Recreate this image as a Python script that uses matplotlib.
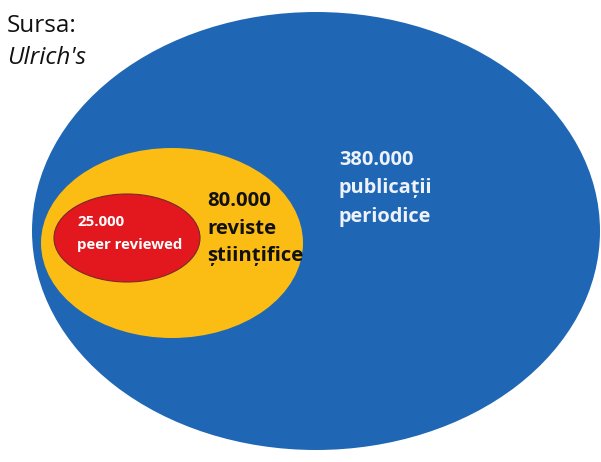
import matplotlib
matplotlib.use("Agg")
import matplotlib.pyplot as plt
from matplotlib.patches import Ellipse

plt.rcParams['font.family'] = ['Open Sans', 'DejaVu Sans']

values = ["380.000", "80.000", "25.000"]
descriptions = [["publicații", "periodice"], ["reviste", "științifice"], ["peer reviewed"]]
colors = ["#1f67b5", "#fbbc14", "#e3171e"]
text_colors = ["#eef2fa", "#111111", "#ffffff"]
source_title = "Sursa:"
source_name = "Ulrich's"

# layout (pixel coordinates)
centers = [(316, 231), (172, 243), (127, 238)]
sizes = [(568, 438), (262, 190), (146, 88)]
text_pos = [(339, 160), (207, 201), (77, 222)]
line_gap = [28.5, 27.5, 23]
fsizes = [14.4, 14.6, 10.8]

fig = plt.figure(figsize=(6.01, 4.62), dpi=100)
ax = fig.add_axes([0, 0, 1, 1])
ax.set_xlim(0, 601)
ax.set_ylim(462, 0)
ax.axis('off')

for i in range(3):
    ec = '#7a2a2a' if i == 2 else 'none'
    ax.add_patch(Ellipse(centers[i], sizes[i][0], sizes[i][1], facecolor=colors[i],
                         edgecolor=ec, linewidth=0.8, zorder=i + 1))
    lines = [values[i]] + descriptions[i]
    for j, t in enumerate(lines):
        ax.text(text_pos[i][0], text_pos[i][1] + j * line_gap[i], t, fontsize=fsizes[i],
                fontweight='bold', color=text_colors[i], ha='left', va='center', zorder=10)

ax.text(7, 26, source_title, fontsize=17.5, color='#111111', ha='left', va='center', zorder=10)
ax.text(7, 58, source_name, fontsize=17.5, style='italic', color='#111111', ha='left', va='center', zorder=10)

fig.savefig("out.png", dpi=100)
